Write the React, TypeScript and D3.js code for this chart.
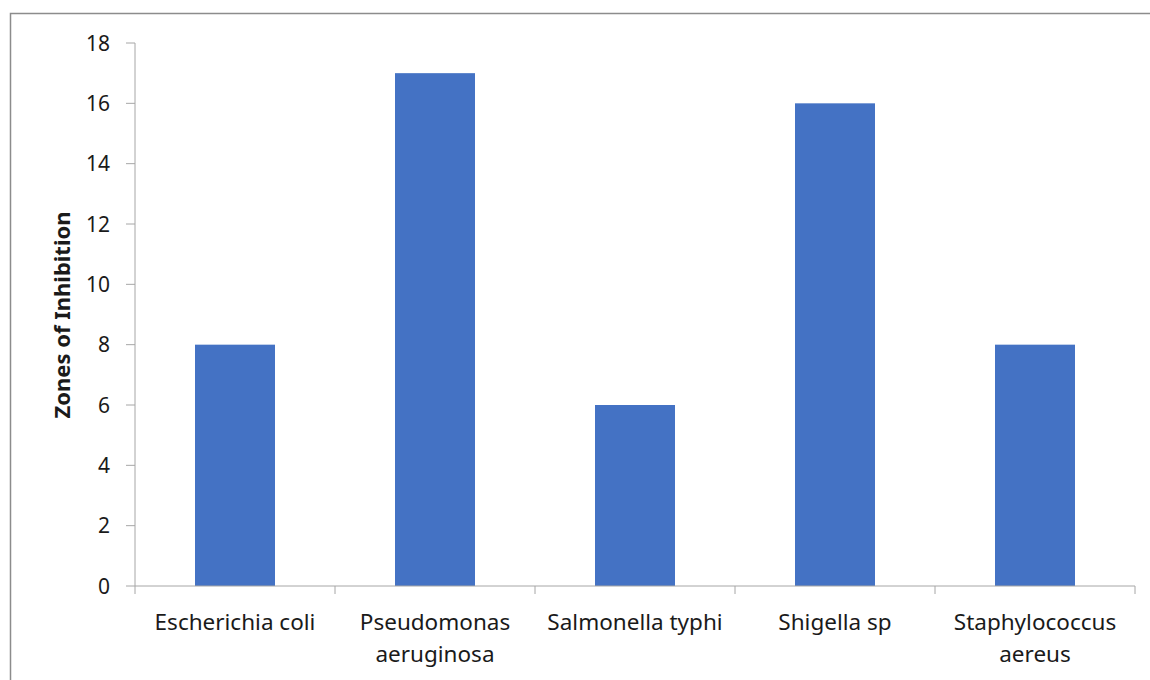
import React from 'react'
import * as d3 from 'd3'

const categories = [
  ['Escherichia coli'],
  ['Pseudomonas', 'aeruginosa'],
  ['Salmonella typhi'],
  ['Shigella sp'],
  ['Staphylococcus', 'aereus'],
]
const values = [8, 17, 6, 16, 8]
const yTicks = [0, 2, 4, 6, 8, 10, 12, 14, 16, 18]

const width = 1150
const height = 680
const left = 135
const right = 1135
const top = 43
const bottom = 586

const font = "'Noto Sans', 'Open Sans', sans-serif"

const App: React.FC = () => {
  const names = categories.map((c) => c.join(' '))
  const xScale = d3.scaleBand().domain(names).range([left, right]).paddingInner(0.6).paddingOuter(0.3)
  const yScale = d3.scaleLinear().domain([0, 18]).range([bottom, top])
  const bounds = d3.range(names.length + 1).map((i) => left + i * ((right - left) / names.length))

  return (
    <svg width={width} height={height} style={{ position: 'absolute', left: 0, top: 0 }}>
      <rect x={0} y={0} width={width} height={height} fill="#fff" />
      <rect x={10.5} y={13.5} width={1200} height={700} fill="none" stroke="#8c8c8c" strokeWidth={1.5} />

      {/* y axis */}
      <line x1={left} x2={left} y1={top} y2={bottom} stroke="#a6a6a6" strokeWidth={1} />
      {yTicks.map((t) => (
        <g key={t}>
          <line x1={left - 9} x2={left} y1={yScale(t)} y2={yScale(t)} stroke="#a6a6a6" />
          <text x={110} y={yScale(t)} dy="0.36em" textAnchor="end" fontSize={21} fill="#1a1a1a" fontFamily={font}>
            {t}
          </text>
        </g>
      ))}
      <text
        transform={`translate(70, 315) rotate(-90)`}
        textAnchor="middle"
        fontSize={22}
        fontWeight="bold"
        fill="#1a1a1a"
        fontFamily={font}
      >
        Zones of Inhibition
      </text>

      {/* bars */}
      {names.map((n, i) => (
        <rect
          key={n}
          x={xScale(n)}
          y={yScale(values[i])}
          width={xScale.bandwidth()}
          height={yScale(0) - yScale(values[i])}
          fill="#4472C4"
        />
      ))}

      {/* x axis */}
      <line x1={left} x2={right} y1={bottom} y2={bottom} stroke="#a6a6a6" />
      {bounds.map((b, i) => (
        <line key={i} x1={b} x2={b} y1={bottom} y2={bottom + 8} stroke="#a6a6a6" />
      ))}
      {categories.map((lines, i) => {
        const cx = (xScale(names[i]) as number) + xScale.bandwidth() / 2
        return (
          <text key={names[i]} x={cx} y={630} textAnchor="middle" fontSize={22.5} fill="#1a1a1a" fontFamily={font}>
            {lines.map((l, j) => (
              <tspan key={j} x={cx} dy={j === 0 ? 0 : 32}>
                {l}
              </tspan>
            ))}
          </text>
        )
      })}
    </svg>
  )
}

export default App
